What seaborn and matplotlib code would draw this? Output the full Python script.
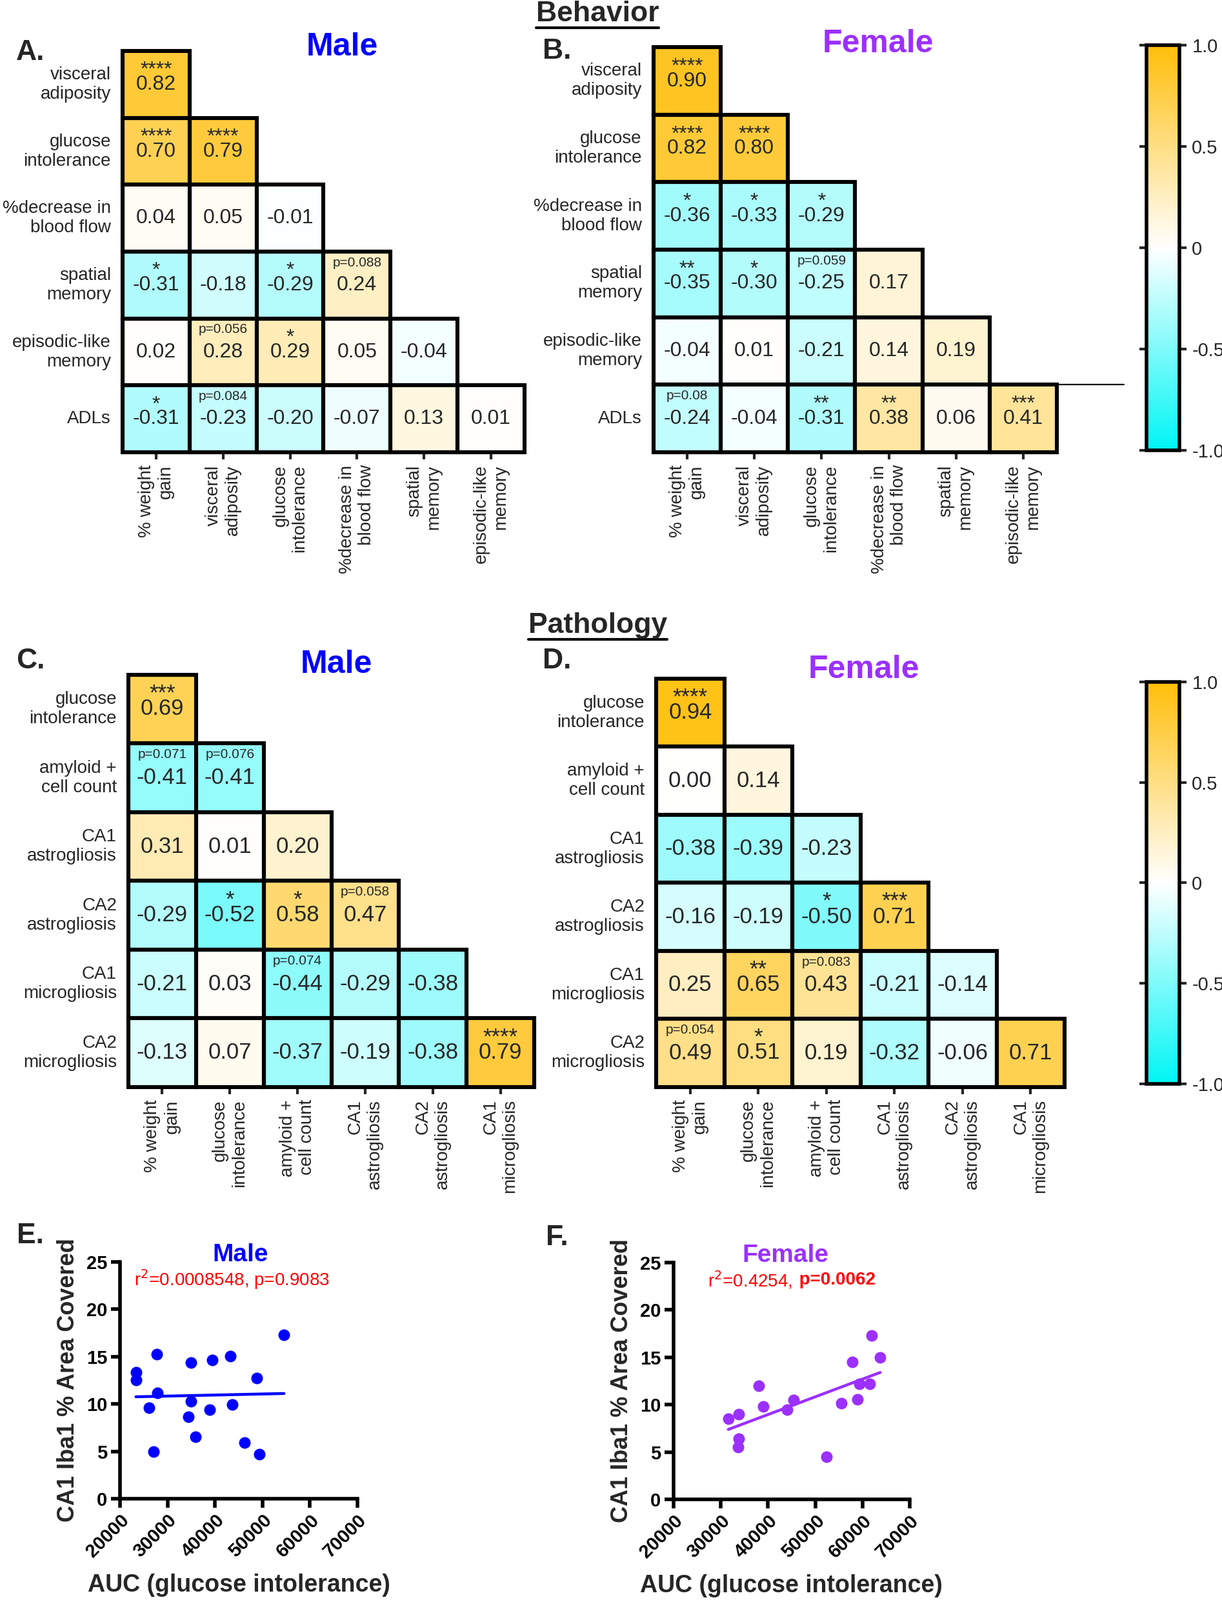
import numpy as np
import pandas as pd
import matplotlib
matplotlib.use("Agg")
import matplotlib.pyplot as plt
import seaborn as sns
from matplotlib.colors import LinearSegmentedColormap
from matplotlib.patches import Rectangle
from matplotlib.lines import Line2D

# ---- data ----
beh_rows = ["visceral\nadiposity", "glucose\nintolerance", "%decrease in\nblood flow",
            "spatial\nmemory", "episodic-like\nmemory", "ADLs"]
beh_cols = ["% weight\ngain", "visceral\nadiposity", "glucose\nintolerance",
            "%decrease in\nblood flow", "spatial\nmemory", "episodic-like\nmemory"]

male_beh = [[0.82],
            [0.70, 0.79],
            [0.04, 0.05, -0.01],
            [-0.31, -0.18, -0.29, 0.24],
            [0.02, 0.28, 0.29, 0.05, -0.04],
            [-0.31, -0.23, -0.20, -0.07, 0.13, 0.01]]
male_beh_sig = [["****"],
                ["****", "****"],
                ["", "", ""],
                ["*", "", "*", "p=0.088"],
                ["", "p=0.056", "*", "", ""],
                ["*", "p=0.084", "", "", "", ""]]

female_beh = [[0.90],
              [0.82, 0.80],
              [-0.36, -0.33, -0.29],
              [-0.35, -0.30, -0.25, 0.17],
              [-0.04, 0.01, -0.21, 0.14, 0.19],
              [-0.24, -0.04, -0.31, 0.38, 0.06, 0.41]]
female_beh_sig = [["****"],
                  ["****", "****"],
                  ["*", "*", "*"],
                  ["**", "*", "p=0.059", ""],
                  ["", "", "", "", ""],
                  ["p=0.08", "", "**", "**", "", "***"]]

path_rows = ["glucose\nintolerance", "amyloid +\ncell count", "CA1\nastrogliosis",
             "CA2\nastrogliosis", "CA1\nmicrogliosis", "CA2\nmicrogliosis"]
path_cols = ["% weight\ngain", "glucose\nintolerance", "amyloid +\ncell count",
             "CA1\nastrogliosis", "CA2\nastrogliosis", "CA1\nmicrogliosis"]

male_path = [[0.69],
             [-0.41, -0.41],
             [0.31, 0.01, 0.20],
             [-0.29, -0.52, 0.58, 0.47],
             [-0.21, 0.03, -0.44, -0.29, -0.38],
             [-0.13, 0.07, -0.37, -0.19, -0.38, 0.79]]
male_path_sig = [["***"],
                 ["p=0.071", "p=0.076"],
                 ["", "", ""],
                 ["", "*", "*", "p=0.058"],
                 ["", "", "p=0.074", "", ""],
                 ["", "", "", "", "", "****"]]

female_path = [[0.94],
               [0.00, 0.14],
               [-0.38, -0.39, -0.23],
               [-0.16, -0.19, -0.50, 0.71],
               [0.25, 0.65, 0.43, -0.21, -0.14],
               [0.49, 0.51, 0.19, -0.32, -0.06, 0.71]]
female_path_sig = [["****"],
                   ["", ""],
                   ["", "", ""],
                   ["", "", "*", "***"],
                   ["", "**", "p=0.083", "", ""],
                   ["p=0.054", "*", "", "", "", ""]]

male_auc = [23400, 23350, 27780, 27940, 26110, 27050, 34940, 34940, 34420,
            35830, 39440, 38910, 43300, 43670, 46280, 48790, 49360, 54530]
male_iba1 = [13.36, 12.55, 15.25, 11.14, 9.63, 4.96, 14.34, 10.26, 8.62,
             6.55, 14.67, 9.40, 15.05, 9.93, 5.90, 12.75, 4.71, 17.31]

female_auc = [31580, 33770, 33770, 33630, 38000, 39010, 44110, 45480,
              52360, 55510, 57880, 58880, 59330, 61480, 61980, 63760]
female_iba1 = [8.53, 8.98, 6.41, 5.55, 12.01, 9.79, 9.49, 10.49,
               4.52, 10.12, 14.53, 10.57, 12.18, 12.21, 17.31, 14.98]

cbar_ticks = [-1.0, -0.5, 0.0, 0.5, 1.0]
cbar_labels = ["-1.0", "-0.5", "0", "0.5", "1.0"]

# ---- style ----
sns.set_style("white")
plt.rcParams["font.family"] = ["Liberation Sans", "DejaVu Sans"]

DPI = 200
BLUE = "#0000FF"
PURPLE = "#9B30FF"
cmap = LinearSegmentedColormap.from_list("cw", ["#00F5F5", "#FFFFFF", "#FFBE0A"])

fig = plt.figure(figsize=(9.47, 12.4), dpi=DPI)


def tri_heatmap(ax, vals, sig, rows, cols, fs_val, fs_lab, cbar_ax=None):
    n = len(rows)
    mat = np.full((n, len(cols)), np.nan)
    for i, r in enumerate(vals):
        mat[i, :len(r)] = r
    df = pd.DataFrame(mat, index=rows, columns=cols)
    sns.heatmap(df, ax=ax, cmap=cmap, vmin=-1, vmax=1, annot=False,
                cbar=cbar_ax is not None, cbar_ax=cbar_ax)
    cell_px = ax.bbox.height / n
    em = fs_val * DPI / 72 / cell_px      # font size in cell units
    for i, r in enumerate(vals):
        for j, v in enumerate(r):
            ax.add_patch(Rectangle((j, i), 1, 1, fill=False, ec="black", lw=2.2,
                                   clip_on=False, zorder=5))
            s = sig[i][j]
            val = f"{v:.2f}"
            if s and not s.startswith("p="):
                # stars and value in one block, value kept at cell centre
                ax.text(j + 0.5, i + 0.5 + 0.47 * em, s + "\n" + val,
                        ha="center", va="bottom", fontsize=fs_val,
                        linespacing=0.64)
            else:
                ax.text(j + 0.5, i + 0.5, val, ha="center", va="center",
                        fontsize=fs_val)
                if s:
                    ax.text(j + 0.5, i + 0.165, s, ha="center", va="center",
                            fontsize=7.5)
    ax.set_yticklabels(rows, rotation=0, ha="right", ma="right", fontsize=fs_lab)
    ax.set_xticklabels(cols, rotation=90, ha="center", va="top", ma="right",
                       fontsize=fs_lab)
    ax.tick_params(axis="y", left=False, pad=3)
    ax.tick_params(axis="x", bottom=True, length=4, width=1.5, pad=3)
    ax.set_xlabel("")
    ax.set_ylabel("")
    if cbar_ax is not None:
        cb = ax.collections[0].colorbar
        cb.set_ticks(cbar_ticks)
        cb.set_ticklabels(cbar_labels)
        cb.outline.set_edgecolor("black")
        cb.outline.set_linewidth(2)
        cbar_ax.tick_params(left=True, right=True, length=4, width=1.5,
                            labelsize=10.5, pad=3)


def scatter_panel(ax, xs, ys, color, title, tx):
    sns.regplot(x=xs, y=ys, ax=ax, ci=None, color=color, truncate=True,
                scatter_kws={"s": 42, "alpha": 1, "linewidths": 0},
                line_kws={"lw": 1.6})
    ax.set_xlim(20000, 70000)
    ax.set_ylim(0, 25)
    ax.set_xticks(range(20000, 70001, 10000))
    ax.set_yticks(range(0, 26, 5))
    sns.despine(ax=ax)
    for sp in ("left", "bottom"):
        ax.spines[sp].set_linewidth(2)
        ax.spines[sp].set_color("black")
    ax.tick_params(axis="both", direction="out", length=5, width=2, pad=2,
                   labelsize=10.5, colors="black", left=True, bottom=True)
    plt.setp(ax.get_xticklabels(), rotation=45, ha="right",
             rotation_mode="anchor", fontweight="bold")
    plt.setp(ax.get_yticklabels(), fontweight="bold")
    ax.set_xlabel("AUC (glucose intolerance)", fontsize=13.5, fontweight="bold",
                  labelpad=7)
    ax.set_ylabel("CA1 Iba1 % Area Covered", fontsize=13, fontweight="bold",
                  labelpad=4)
    ax.text(tx, 1.03, title, transform=ax.transAxes, ha="center", va="center",
            fontsize=14, fontweight="bold", color=color)


# ---- heatmaps ----
axA = fig.add_axes([0.1003, 0.7173, 0.3289, 0.2508])
axB = fig.add_axes([0.5348, 0.7173, 0.3300, 0.2532])
cax1 = fig.add_axes([0.9382, 0.7185, 0.0269, 0.2532])
axC = fig.add_axes([0.1051, 0.3206, 0.3321, 0.2577])
axD = fig.add_axes([0.5370, 0.3206, 0.3342, 0.2552])
cax2 = fig.add_axes([0.9382, 0.3226, 0.0269, 0.2512])

tri_heatmap(axA, male_beh, male_beh_sig, beh_rows, beh_cols, 11.5, 10)
tri_heatmap(axB, female_beh, female_beh_sig, beh_rows, beh_cols, 11.5, 10, cbar_ax=cax1)
tri_heatmap(axC, male_path, male_path_sig, path_rows, path_cols, 12.5, 10)
tri_heatmap(axD, female_path, female_path_sig, path_rows, path_cols, 12.5, 10, cbar_ax=cax2)

# stray rule line to the right of panel B
axB.plot([6, 7], [5, 5], color="black", lw=0.8, clip_on=False)

# ---- scatter plots ----
axE = fig.add_axes([0.0982, 0.0633, 0.1943, 0.148])
axF = fig.add_axes([0.5512, 0.0629, 0.1932, 0.148])
scatter_panel(axE, male_auc, male_iba1, BLUE, "Male", 0.508)
scatter_panel(axF, female_auc, female_iba1, PURPLE, "Female", 0.475)

axE.text(0.47, 0.926, "r$^2$=0.0008548, p=0.9083", transform=axE.transAxes,
         ha="center", va="center", fontsize=10, color="red")
axF.text(0.51, 0.926, "r$^2$=0.4254, ", transform=axF.transAxes,
         ha="right", va="center", fontsize=10, color="red")
axF.text(0.51, 0.926, " p=0.0062", transform=axF.transAxes,
         ha="left", va="center", fontsize=10, color="red", fontweight="bold")

# ---- titles, panel letters ----
fig.text(0.280, 0.9706, "Male", ha="center", va="center", fontsize=18,
         fontweight="bold", color=BLUE)
fig.text(0.7186, 0.9726, "Female", ha="center", va="center", fontsize=18,
         fontweight="bold", color=PURPLE)
fig.text(0.275, 0.5847, "Male", ha="center", va="center", fontsize=18,
         fontweight="bold", color=BLUE)
fig.text(0.707, 0.5815, "Female", ha="center", va="center", fontsize=18,
         fontweight="bold", color=PURPLE)

for x, y, s in [(0.025, 0.967, "A."), (0.456, 0.968, "B."), (0.025, 0.587, "C."),
                (0.456, 0.5867, "D."), (0.025, 0.2278, "E."), (0.456, 0.2266, "F.")]:
    fig.text(x, y, s, ha="center", va="center", fontsize=16, fontweight="bold")

sec = [fig.text(0.489, 0.9915, "Behavior", ha="center", va="center",
                fontsize=16, fontweight="bold"),
       fig.text(0.489, 0.609, "Pathology", ha="center", va="center",
                fontsize=16, fontweight="bold")]
fig.canvas.draw()
inv = fig.transFigure.inverted()
for t in sec:
    bb = t.get_window_extent()
    (x0, y0), (x1, _) = inv.transform([(bb.x0, bb.y0 - 1), (bb.x1, bb.y0 - 1)])
    fig.add_artist(Line2D([x0, x1], [y0, y0], color="black", lw=1.5,
                          transform=fig.transFigure))

fig.savefig("out.png", dpi=DPI, facecolor="white")
